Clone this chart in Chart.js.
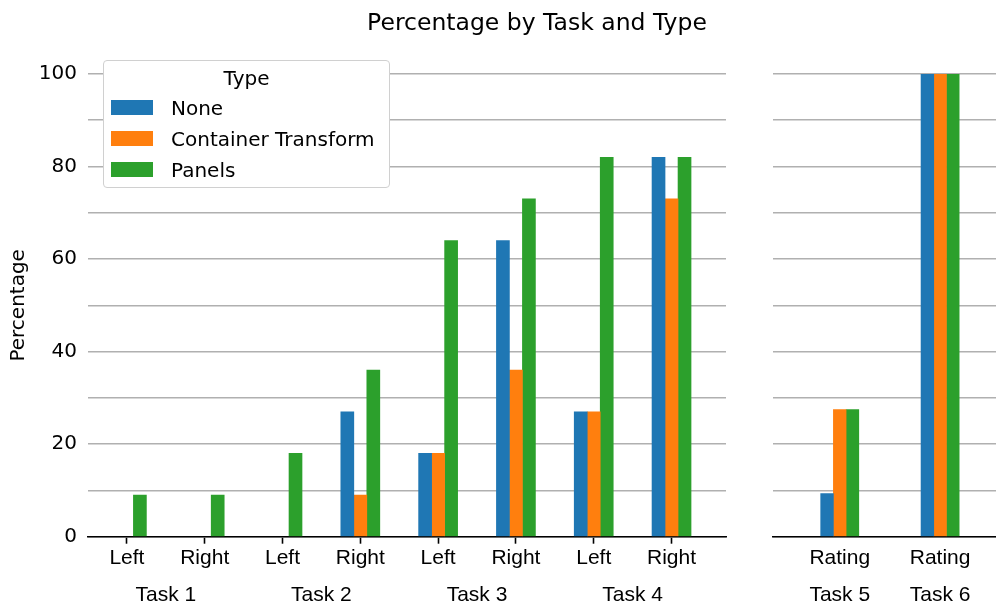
<!DOCTYPE html>
<html>
<head>
<meta charset="utf-8">
<script src="https://cdn.jsdelivr.net/npm/chart.js@4.4.0/dist/chart.umd.min.js"></script>
<style>
  html, body { margin: 0; padding: 0; background: #fff; }
  #wrap { position: relative; width: 996px; height: 606px; overflow: hidden; }
  canvas { position: absolute; top: 0; }
  #title {
    position: absolute; left: 0; width: 1074px; top: 11px; text-align: center;
    font: 23.5px 'DejaVu Sans'; line-height: 23px; color: #000;
  }
  #legend {
    position: absolute; left: 103px; top: 60px; width: 285px; height: 126px;
    border: 1px solid #d0d0d0; border-radius: 4px; background: #fff;
    font: 20px 'DejaVu Sans'; color: #000;
  }
  #legend .ttl { position: absolute; left: 0; right: 0; top: 2px; height: 31px; line-height: 31px; text-align: center; }
  #legend .row { position: absolute; left: 7px; height: 31px; display: flex; align-items: center; }
  #legend .sw { width: 42px; height: 15px; margin-right: 18px; }
</style>
</head>
<body>
<div id="wrap">
  <canvas id="left" width="740" height="606" style="left:0"></canvas>
  <canvas id="right" width="251" height="606" style="left:745px"></canvas>
  <div id="title">Percentage by Task and Type</div>
  <div id="legend"></div>
</div>
<script>
// left panel: tasks 1-4, Left / Right
const subLabels = ['Left', 'Right', 'Left', 'Right', 'Left', 'Right', 'Left', 'Right'];
const taskLabels = ['Task 1', 'Task 2', 'Task 3', 'Task 4'];
const noneVals = [0, 0, 0, 27, 18, 64, 27, 82];
const transformVals = [0, 0, 0, 9, 18, 36, 27, 73];
const panelsVals = [9, 9, 18, 36, 64, 73, 82, 82];

// right panel: tasks 5-6, Rating
const ratingLabels = ['Rating', 'Rating'];
const ratingTasks = ['Task 5', 'Task 6'];
const ratingNone = [9.3, 100];
const ratingTransform = [27.5, 100];
const ratingPanels = [27.5, 100];

const seriesNames = ['None', 'Container Transform', 'Panels'];
const colors = ['#1f77b4', '#ff7f0e', '#2ca02c'];
const yTicks = [0, 20, 40, 60, 80, 100];

Chart.defaults.animation = false;
Chart.defaults.font.family = 'DejaVu Sans';
Chart.defaults.color = '#000';

function toPoints(vals){ return vals.map((v, i) => ({x: i, y: v})); }

function makeDatasets(lists, thick){
  return lists.map((vals, k) => ({
    label: seriesNames[k],
    data: toPoints(vals),
    backgroundColor: colors[k],
    borderWidth: 0,
    // no hairline for zero-height bars
    inflateAmount: ctx => (ctx.raw && ctx.raw.y === 0) ? 0 : 0.33,
    barThickness: thick
  }));
}

function yAxis(showLabels, width){
  return {
    type: 'linear', min: 0, max: 100,
    ticks: {
      display: showLabels, stepSize: 10, padding: 11,
      font: {size: 20, family: 'DejaVu Sans'},
      callback: v => yTicks.includes(v) ? v : ''
    },
    grid: {color: '#b0b0b0', lineWidth: 1.6, drawTicks: false},
    border: {display: false},
    title: {
      display: showLabels, text: 'Percentage',
      font: {size: 20, family: 'DejaVu Sans'}, padding: {top: 7, bottom: 0}
    },
    afterFit: s => { s.width = width; }
  };
}

function xAxis(min, max, labels, withTicks){
  return {
    type: 'linear', min, max, position: 'bottom', weight: 0, offset: false,
    afterBuildTicks: s => { s.ticks = labels.map((_, i) => ({value: i})); },
    ticks: {
      autoSkip: false, maxRotation: 0, padding: withTicks ? 1.5 : 8.5,
      font: {size: 21, family: 'Liberation Sans'},
      callback: (v, i) => labels[i]
    },
    grid: {
      display: withTicks, offset: false, drawOnChartArea: false, drawTicks: withTicks,
      tickLength: 7, tickColor: '#000', tickWidth: 1.6
    },
    border: {display: true, color: '#000', width: 1.6},
    afterFit: s => { s.height = 38; }
  };
}

function groupAxis(min, max, positions, labels){
  return {
    type: 'linear', min, max, position: 'bottom', weight: 1, offset: false,
    afterBuildTicks: s => { s.ticks = positions.map(v => ({value: v})); },
    ticks: {
      autoSkip: false, maxRotation: 0, padding: 8,
      font: {size: 21, family: 'Liberation Sans'},
      callback: (v, i) => labels[i]
    },
    grid: {display: false, offset: false, drawTicks: false},
    border: {display: false},
    afterFit: s => { s.height = 31.3; }
  };
}

new Chart(document.getElementById('left'), {
  type: 'bar',
  data: {datasets: makeDatasets([noneVals, transformVals, panelsVals], 13)},
  options: {
    responsive: false,
    layout: {padding: {top: 74, left: 0, right: 14, bottom: 0}},
    plugins: {legend: {display: false}, tooltip: {enabled: false}},
    scales: {
      x: xAxis(-0.5, 7.7, subLabels, true),
      x2: groupAxis(-0.5, 7.7, [0.5, 2.5, 4.5, 6.5], taskLabels),
      y: yAxis(true, 88)
    }
  }
});

new Chart(document.getElementById('right'), {
  type: 'bar',
  data: {datasets: makeDatasets([ratingNone, ratingTransform, ratingPanels], 12.7)},
  options: {
    responsive: false,
    layout: {padding: {top: 74, left: 0, right: 0, bottom: 0}},
    plugins: {legend: {display: false}, tooltip: {enabled: false}},
    scales: {
      x: xAxis(-0.665, 1.557, ratingLabels, false),
      x2: groupAxis(-0.665, 1.557, [0, 1], ratingTasks),
      y: yAxis(false, 28)
    }
  }
});

// legend box built from the series names and colours
const legend = document.getElementById('legend');
legend.innerHTML = '<div class="ttl">Type</div>' + seriesNames.map((n, i) =>
  `<div class="row" style="top:${31 + 31 * i}px"><span class="sw" style="background:${colors[i]}"></span>${n}</div>`
).join('');
</script>
</body>
</html>
